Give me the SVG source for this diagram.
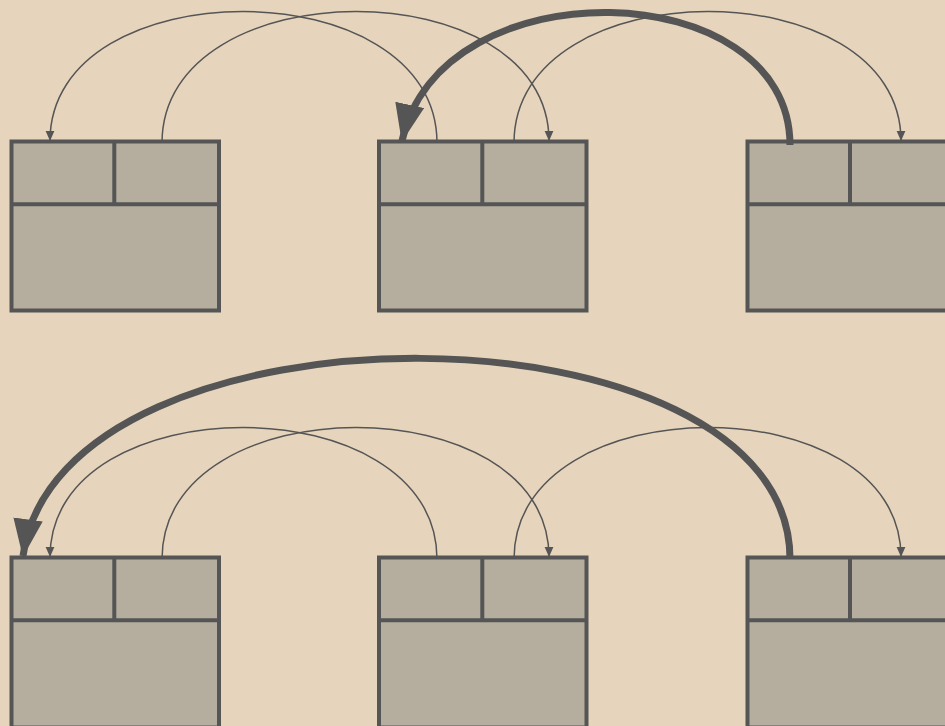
<svg xmlns="http://www.w3.org/2000/svg" width="945" height="726" viewBox="0 0 945 726">
<style>
.box{fill:#b5ae9e;stroke:#555555;stroke-width:4}
.div{stroke:#555555;stroke-width:4;fill:none}
.thin{fill:none;stroke:#555555;stroke-width:1.5;marker-end:url(#sa)}
.thick{fill:none;stroke:#555555;stroke-width:7;marker-end:url(#ba)}
</style>
<defs>
<marker id="sa" markerUnits="userSpaceOnUse" markerWidth="10" markerHeight="10" viewBox="0 0 8 7" refX="8" refY="3.5" orient="auto">
<path d="M0,0 L8,3.5 L0,7 z" fill="#555555"/>
</marker>
<marker id="ba" markerUnits="userSpaceOnUse" markerWidth="38" markerHeight="30" viewBox="0 0 36 28" refX="35" refY="14" orient="auto">
<path d="M0,0 L36,14 L0,28 z" fill="#555555"/>
</marker>
</defs>
<rect width="945" height="726" fill="#e6d5bc"/>
<g id="node-1">
<rect class="box" x="11.5" y="141.5" width="207.5" height="169"/>
<path class="div" d="M11.5,204.3 H219 M114.3,141.5 V204.3"/>
</g>
<g id="node-2">
<rect class="box" x="379" y="141.5" width="207.5" height="169"/>
<path class="div" d="M379,204.3 H586.5 M482.3,141.5 V204.3"/>
</g>
<g id="node-3">
<rect class="box" x="747.5" y="141.5" width="207.5" height="169"/>
<path class="div" d="M747.5,204.3 H955 M850,141.5 V204.3"/>
</g>
<g id="node-4">
<rect class="box" x="11.5" y="557.5" width="207.5" height="170"/>
<path class="div" d="M11.5,620.3 H219 M114.3,557.5 V620.3"/>
</g>
<g id="node-5">
<rect class="box" x="379" y="557.5" width="207.5" height="170"/>
<path class="div" d="M379,620.3 H586.5 M482.3,557.5 V620.3"/>
</g>
<g id="node-6">
<rect class="box" x="747.5" y="557.5" width="207.5" height="170"/>
<path class="div" d="M747.5,620.3 H955 M850,557.5 V620.3"/>
</g>
<g id="connectors">
<path class="thin" d="M437,143 C437,-32 50,-32 50,141"/>
<path class="thin" d="M162,143 C162,-32 549,-32 549,141"/>
<path class="thin" d="M514,143 C514,-32 901,-32 901,141"/>
<path class="thick" d="M790,145 C790,-26 440,-36 402,141"/>
<path class="thin" d="M437,559 C437,384 50,384 50,557"/>
<path class="thin" d="M162,559 C162,384 549,384 549,557"/>
<path class="thin" d="M514,559 C514,384 901,384 901,557"/>
<path class="thick" d="M790,559 C790,295 60,289 23,556"/>
</g>
</svg>
